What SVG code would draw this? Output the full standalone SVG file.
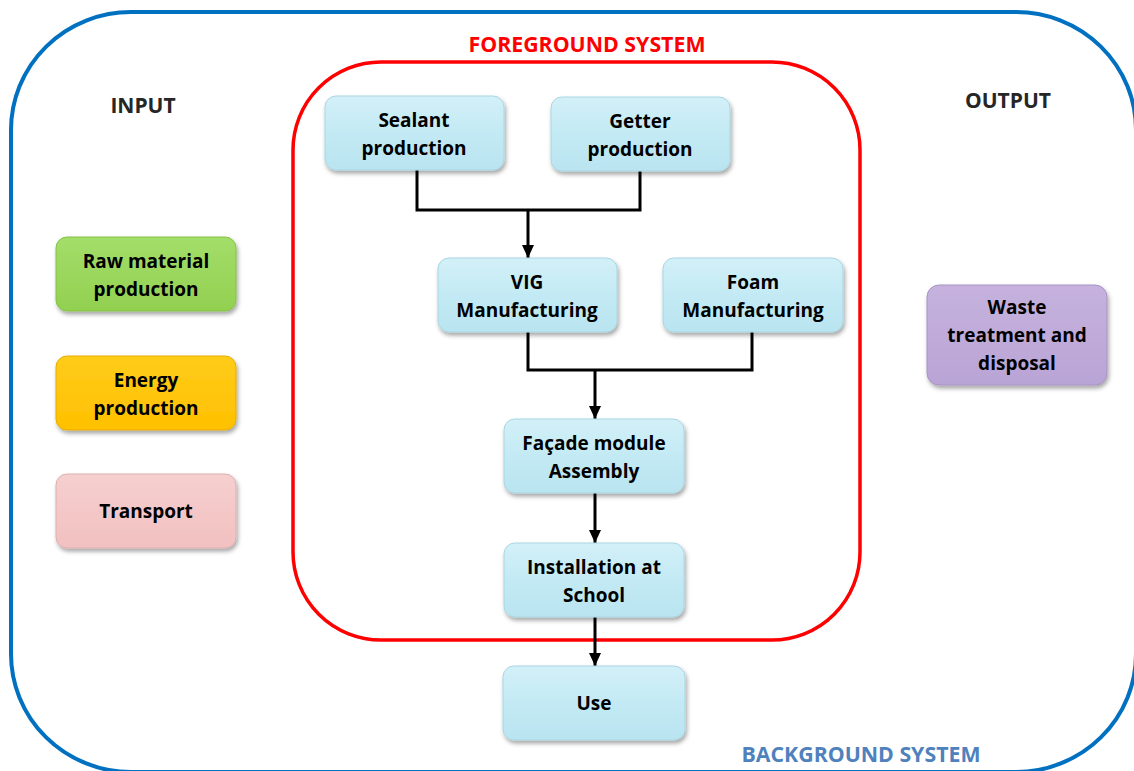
<svg xmlns="http://www.w3.org/2000/svg" width="1134" height="771" viewBox="0 0 1134 771">
  <defs>
    <filter id="shadow" x="-10%" y="-10%" width="125%" height="140%">
      <feDropShadow dx="1.5" dy="3" stdDeviation="2" flood-color="#000" flood-opacity="0.35"/>
    </filter>
    <linearGradient id="gBlue" x1="0" y1="0" x2="0" y2="1">
      <stop offset="0" stop-color="#d3f0f8"/>
      <stop offset="0.5" stop-color="#c3eaf4"/>
      <stop offset="1" stop-color="#b9e4f0"/>
    </linearGradient>
    <linearGradient id="gGreen" x1="0" y1="0" x2="0" y2="1">
      <stop offset="0" stop-color="#a3de6a"/>
      <stop offset="1" stop-color="#92d050"/>
    </linearGradient>
    <linearGradient id="gYellow" x1="0" y1="0" x2="0" y2="1">
      <stop offset="0" stop-color="#ffcc1a"/>
      <stop offset="1" stop-color="#ffc000"/>
    </linearGradient>
    <linearGradient id="gPink" x1="0" y1="0" x2="0" y2="1">
      <stop offset="0" stop-color="#f6cfcf"/>
      <stop offset="1" stop-color="#f2c0c0"/>
    </linearGradient>
    <linearGradient id="gPurple" x1="0" y1="0" x2="0" y2="1">
      <stop offset="0" stop-color="#c6b2dd"/>
      <stop offset="1" stop-color="#b9a4d6"/>
    </linearGradient>
    <marker id="arrow" markerUnits="userSpaceOnUse" markerWidth="13" markerHeight="13" refX="13" refY="6" orient="auto">
      <path d="M0,0 L13,6 L0,12 z" fill="#000"/>
    </marker>
  </defs>
  <style>
    .box { stroke-width: 1; filter: url(#shadow); }
    .blue { fill: url(#gBlue); stroke: #a9d6e2; }
    .green { fill: url(#gGreen); stroke: #86c048; }
    .yellow { fill: url(#gYellow); stroke: #e6ad00; }
    .pink { fill: url(#gPink); stroke: #ddb0b0; }
    .purple { fill: url(#gPurple); stroke: #a893c4; }
    .lbl { font-family: "Open Sans", "DejaVu Sans", sans-serif; font-weight: bold; font-size: 19px; fill: #000; text-anchor: middle; }
    .head { font-family: "Open Sans", "DejaVu Sans", sans-serif; font-weight: bold; font-size: 21px; text-anchor: middle; }
    .conn { fill: none; stroke: #000; stroke-width: 3; }
  </style>

  <rect width="1134" height="771" fill="#ffffff"/>

  <!-- system boundaries -->
  <g id="background-system">
    <rect x="11" y="12" width="1125" height="760" rx="120" ry="118" fill="none" stroke="#0070c0" stroke-width="4"/>
    <text class="head" x="861" y="762" fill="#4f81bd" textLength="239" lengthAdjust="spacingAndGlyphs">BACKGROUND SYSTEM</text>
  </g>
  <g id="foreground-system">
    <rect x="293" y="62" width="567" height="578" rx="88" ry="88" fill="none" stroke="#ff0000" stroke-width="3.5"/>
    <text class="head" x="587" y="52" fill="#ff0000" textLength="237" lengthAdjust="spacingAndGlyphs">FOREGROUND SYSTEM</text>
  </g>
  <text id="input-title" class="head" x="143" y="113" fill="#262626">INPUT</text>
  <text id="output-title" class="head" x="1008" y="108" fill="#262626">OUTPUT</text>

  <!-- connectors -->
  <g id="connectors">
    <path class="conn" d="M417,170 V210 H640 V171"/>
    <path class="conn" d="M528,210 V258" marker-end="url(#arrow)"/>
    <path class="conn" d="M528,332 V370 H752 V332"/>
    <path class="conn" d="M595,370 V419" marker-end="url(#arrow)"/>
    <path class="conn" d="M595,493 V543" marker-end="url(#arrow)"/>
    <path class="conn" d="M595,617 V666" marker-end="url(#arrow)"/>
  </g>

  <!-- input nodes -->
  <g id="raw-material">
    <rect class="box green" x="56" y="237" width="180" height="74" rx="11"/>
    <text class="lbl" x="146" y="268">Raw material</text>
    <text class="lbl" x="146" y="296">production</text>
  </g>
  <g id="energy">
    <rect class="box yellow" x="56" y="356" width="180" height="74" rx="11"/>
    <text class="lbl" x="146" y="387">Energy</text>
    <text class="lbl" x="146" y="415">production</text>
  </g>
  <g id="transport">
    <rect class="box pink" x="56" y="474" width="180" height="74" rx="11"/>
    <text class="lbl" x="146" y="518">Transport</text>
  </g>

  <!-- foreground process nodes -->
  <g id="sealant">
    <rect class="box blue" x="325" y="96" width="179" height="74" rx="11"/>
    <text class="lbl" x="414" y="127">Sealant</text>
    <text class="lbl" x="414" y="155">production</text>
  </g>
  <g id="getter">
    <rect class="box blue" x="551" y="97" width="179" height="74" rx="11"/>
    <text class="lbl" x="640" y="128">Getter</text>
    <text class="lbl" x="640" y="156">production</text>
  </g>
  <g id="vig">
    <rect class="box blue" x="438" y="258" width="179" height="74" rx="11"/>
    <text class="lbl" x="527" y="289">VIG</text>
    <text class="lbl" x="527" y="317">Manufacturing</text>
  </g>
  <g id="foam">
    <rect class="box blue" x="663" y="258" width="180" height="74" rx="11"/>
    <text class="lbl" x="753" y="289">Foam</text>
    <text class="lbl" x="753" y="317">Manufacturing</text>
  </g>
  <g id="facade">
    <rect class="box blue" x="504" y="419" width="180" height="74" rx="11"/>
    <text class="lbl" x="594" y="450">Façade module</text>
    <text class="lbl" x="594" y="478">Assembly</text>
  </g>
  <g id="installation">
    <rect class="box blue" x="504" y="543" width="180" height="74" rx="11"/>
    <text class="lbl" x="594" y="574">Installation at</text>
    <text class="lbl" x="594" y="602">School</text>
  </g>
  <g id="use">
    <rect class="box blue" x="503" y="666" width="182" height="74" rx="11"/>
    <text class="lbl" x="594" y="710">Use</text>
  </g>

  <!-- output node -->
  <g id="waste">
    <rect class="box purple" x="927" y="285" width="180" height="100" rx="12"/>
    <text class="lbl" x="1017" y="314">Waste</text>
    <text class="lbl" x="1017" y="342">treatment and</text>
    <text class="lbl" x="1017" y="370">disposal</text>
  </g>
</svg>
